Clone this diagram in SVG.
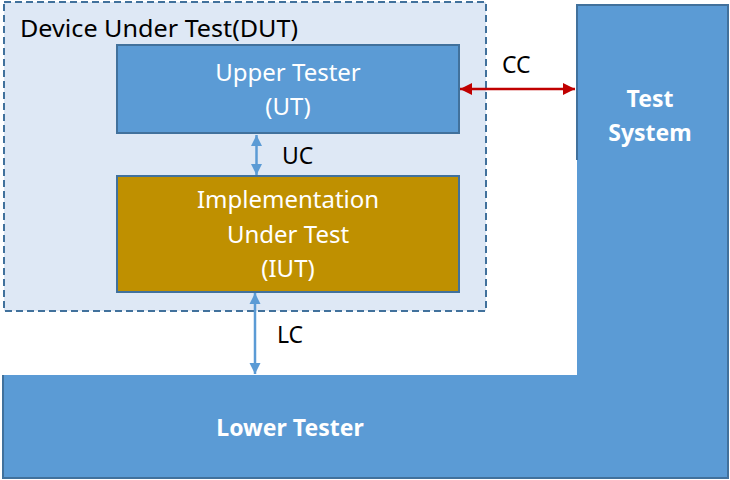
<svg xmlns="http://www.w3.org/2000/svg" width="730" height="480" viewBox="0 0 730 480">
<style>
text{font-family:"Noto Sans","Open Sans","DejaVu Sans",sans-serif;}
.w{fill:#ffffff;font-size:24px;text-anchor:middle;}
.b{fill:#ffffff;font-size:23px;font-weight:bold;text-anchor:middle;}
.k{fill:#000000;font-size:23px;}
.blue{stroke:#5b9bd5;stroke-width:2.5;fill:none;}
.red{stroke:#c00000;stroke-width:2.5;fill:none;}
</style>
<defs>
<marker id="ab" viewBox="0 0 10 10" refX="10" refY="5" markerWidth="11" markerHeight="13" markerUnits="userSpaceOnUse" orient="auto-start-reverse"><path d="M0,0 L10,5 L0,10 z" fill="#5b9bd5"/></marker>
<marker id="ar" viewBox="0 0 10 10" refX="10" refY="5" markerWidth="13" markerHeight="12" markerUnits="userSpaceOnUse" orient="auto-start-reverse"><path d="M0,0 L10,5 L0,10 z" fill="#c00000"/></marker>
</defs>
<rect width="730" height="480" fill="#ffffff"/>
<g id="tester">
<path d="M577,5 H728 V478 H3 V375 H577 Z" fill="#5b9bd5"/>
<path d="M577,160 V5 H728 V478 H3 V375" fill="none" stroke="#41719c" stroke-width="2"/>
<text class="b" x="650" y="107">Test</text>
<text class="b" x="650" y="141">System</text>
<text class="b" x="290" y="436">Lower Tester</text>
</g>
<g id="dut">
<rect x="4" y="2" width="482" height="309" fill="#dee8f5" stroke="#41719c" stroke-width="2" stroke-dasharray="7,4"/>
<text class="k" x="20" y="37" font-size="25" textLength="278" lengthAdjust="spacingAndGlyphs">Device Under Test(DUT)</text>
</g>
<g id="ut">
<rect x="117" y="45" width="342" height="88" fill="#5b9bd5" stroke="#41719c" stroke-width="2"/>
<text class="w" x="288" y="81">Upper Tester</text>
<text class="w" x="288" y="115">(UT)</text>
</g>
<g id="iut">
<rect x="117" y="176" width="342" height="116" fill="#bf9000" stroke="#41719c" stroke-width="2"/>
<text class="w" x="288" y="208">Implementation</text>
<text class="w" x="288" y="243">Under Test</text>
<text class="w" x="288" y="277">(IUT)</text>
</g>
<g id="connectors">
<line class="blue" x1="256.5" y1="135" x2="256.5" y2="175" marker-start="url(#ab)" marker-end="url(#ab)"/>
<line class="blue" x1="255" y1="293" x2="255" y2="374" marker-start="url(#ab)" marker-end="url(#ab)"/>
<line class="red" x1="460" y1="89" x2="575" y2="89" marker-start="url(#ar)" marker-end="url(#ar)"/>
<text class="k" x="282" y="164">UC</text>
<text class="k" x="502" y="73">CC</text>
<text class="k" x="277" y="343">LC</text>
</g>
</svg>
